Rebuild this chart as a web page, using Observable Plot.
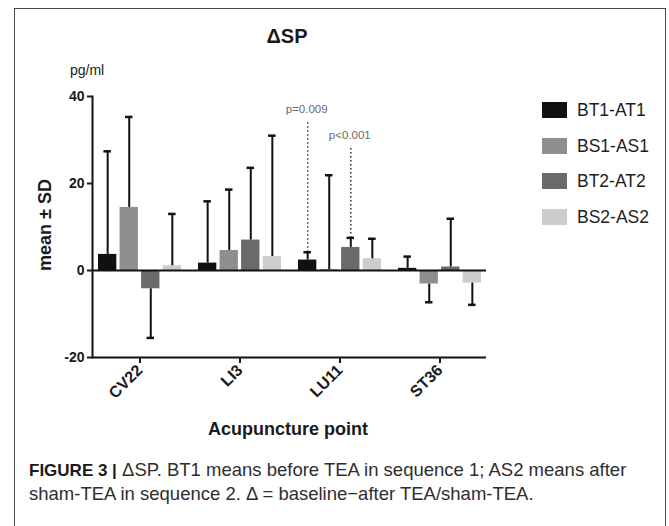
<!DOCTYPE html>
<html>
<head>
<meta charset="utf-8">
<script src="https://cdn.jsdelivr.net/npm/d3@7"></script>
<script src="https://cdn.jsdelivr.net/npm/@observablehq/plot@0.6"></script>
<style>
  body { margin: 0; background: #fff; }
  #wrap { position: relative; width: 669px; height: 526px; overflow: hidden; background: #fff;
          font-family: "Liberation Sans", Arial, sans-serif; color: #1a1a1a; }
  #frame { position: absolute; left: 14px; top: 8px; width: 652px; height: 540px;
           border: 1.5px solid #4a4a4a; box-sizing: border-box; }
  .abs { position: absolute; white-space: nowrap; }
  #chart { position: absolute; left: 0; top: 0; }
  .legrow { position: absolute; left: 542px; height: 20px; display: flex; align-items: center; }
  .legrow .sw { width: 25px; height: 16px; margin-right: 10px; }
  .legrow .lt { font-size: 17.5px; color: #1e1e1e; }
  #caption { position: absolute; left: 29px; top: 458px; font-size: 18.5px; line-height: 23px; color: #2e2e2e; white-space: nowrap; }
  #caption b { font-size: 17px; color: #1a1a1a; }
</style>
</head>
<body>
<div id="wrap">
  <div id="frame"></div>
  <div id="chart"></div>
  <div class="abs" id="title" style="left:287px; top:36px; transform:translate(-50%,-50%); font-size:20px; font-weight:bold;">ΔSP</div>
  <div class="abs" style="left:70px; top:70px; transform:translateY(-50%); font-size:14px; color:#222;">pg/ml</div>
  <div class="abs" style="left:45px; top:225px; transform:translate(-50%,-50%) rotate(-90deg); font-size:18px; font-weight:bold;">mean ± SD</div>
  <div class="abs" style="left:288px; top:429px; transform:translate(-50%,-50%); font-size:18px; font-weight:bold;">Acupuncture point</div>
  <div id="legend"></div>
  <div id="caption"><b>FIGURE 3 |</b> ΔSP. BT1 means before TEA in sequence 1; AS2 means after<br>sham-TEA in sequence 2. Δ = baseline−after TEA/sham-TEA.</div>
</div>
<script>
// ---- data ----
const categories = ["CV22", "LI3", "LU11", "ST36"];
const seriesNames = ["BT1-AT1", "BS1-AS1", "BT2-AT2", "BS2-AS2"];
const seriesColors = ["#111111", "#8e8e8e", "#6a6a6a", "#cdcdcd"];

const meanBT1AT1 = [3.7, 1.7, 2.4, 0.5];
const meanBS1AS1 = [14.5, 4.6, 0.2, -3.1];
const meanBT2AT2 = [-4.2, 7.0, 5.3, 0.8];
const meanBS2AS2 = [1.1, 3.2, 2.7, -2.9];

const sdBT1AT1 = [23.7, 14.2, 1.8, 2.7];
const sdBS1AS1 = [20.8, 14.0, 21.7, 4.2];
const sdBT2AT2 = [11.3, 16.6, 2.2, 11.1];
const sdBS2AS2 = [11.9, 27.8, 4.6, 5.0];

const yTicks = [-20, 0, 20, 40];
const yDomain = [-20, 40];

const pLabels = ["p=0.009", "p<0.001"];
const pCategories = ["LU11", "LU11"];
const pSeries = ["BT1-AT1", "BT2-AT2"];
const pLevels = [34.5, 28.5];

// ---- build rows ----
const means = [meanBT1AT1, meanBS1AS1, meanBT2AT2, meanBS2AS2];
const sds = [sdBT1AT1, sdBS1AS1, sdBT2AT2, sdBS2AS2];
const rows = [];
seriesNames.forEach((s, si) => {
  categories.forEach((c, ci) => {
    const m = means[si][ci], sd = sds[si][ci];
    rows.push({point: c, series: s, si, mean: m, tip: m >= 0 ? m + sd : m - sd});
  });
});

// ---- layout of grouped bars inside each category band ----
const marginLeft = 92, marginRight = 183, width = 669;
const padInner = 0.17, padOuter = 0.055;
const step = (width - marginLeft - marginRight) / (categories.length - padInner + 2 * padOuter);
const band = step * (1 - padInner);
const sub = band / (seriesNames.length - 0.15);
const barW = sub * 0.85;
const capW = 7.5;
const off = si => si * sub;  // left edge of bar within band

const marks = [];
seriesNames.forEach((s, si) => {
  const d = rows.filter(r => r.series === s);
  marks.push(Plot.barY(d, {x: "point", y1: 0, y2: "mean", fill: seriesColors[si],
    insetLeft: off(si), insetRight: band - off(si) - barW}));
});
seriesNames.forEach((s, si) => {
  const d = rows.filter(r => r.series === s);
  const cx = off(si) + barW / 2;
  marks.push(Plot.ruleX(d, {x: "point", y1: "mean", y2: "tip", dx: cx - band / 2, stroke: "#111", strokeWidth: 2}));
  marks.push(Plot.tickY(d, {x: "point", y: "tip", stroke: "#111", strokeWidth: 2.5,
    insetLeft: cx - capW / 2, insetRight: band - cx - capW / 2}));
});
pLabels.forEach((lab, k) => {
  const si = seriesNames.indexOf(pSeries[k]);
  const r = rows.find(r => r.series === pSeries[k] && r.point === pCategories[k]);
  const cx = off(si) + barW / 2 - band / 2;
  const d = [{point: pCategories[k], from: r.tip, to: pLevels[k], label: lab}];
  marks.push(Plot.ruleX(d, {x: "point", y1: "from", y2: "to", dx: cx, stroke: "#333", strokeWidth: 1.5, strokeDasharray: "1.5,2.5"}));
  marks.push(Plot.text(d, {x: "point", y: "to", text: "label", dx: cx - 1, dy: -11, fill: "#6a6a6a", fontSize: 11.5, fontWeight: "normal"}));
});
marks.push(Plot.ruleY([0], {stroke: "#111", strokeWidth: 2}));
marks.push(Plot.ruleY([yDomain[0]], {stroke: "#111", strokeWidth: 2}));
marks.push(Plot.frame({anchor: "left", stroke: "#111", strokeWidth: 2}));
marks.push(Plot.axisY({ticks: yTicks, tickFormat: d => String(d), tickSize: 5, tickPadding: 3, strokeWidth: 2,
  fontSize: 14, fontWeight: "bold", label: null}));
marks.push(Plot.axisX({tickRotate: -45, tickSize: 6, tickPadding: 4, strokeWidth: 2, fontSize: 16, fontWeight: "bold", label: null}));

const chart = Plot.plot({
  width, height: 400, marginLeft, marginRight, marginTop: 96, marginBottom: 43,
  style: {fontFamily: "'Liberation Sans', Arial, sans-serif", color: "#1a1a1a", background: "transparent", overflow: "visible"},
  x: {domain: categories, paddingInner: padInner, paddingOuter: padOuter},
  y: {domain: yDomain},
  marks
});
document.getElementById("chart").appendChild(chart);

// ---- legend ----
const legendY = [110, 146, 181, 217];
const leg = document.getElementById("legend");
seriesNames.forEach((s, si) => {
  const row = document.createElement("div");
  row.className = "legrow";
  row.style.top = (legendY[si] - 10) + "px";
  row.innerHTML = `<div class="sw" style="background:${seriesColors[si]}"></div><div class="lt">${s}</div>`;
  leg.appendChild(row);
});
</script>
</body>
</html>
